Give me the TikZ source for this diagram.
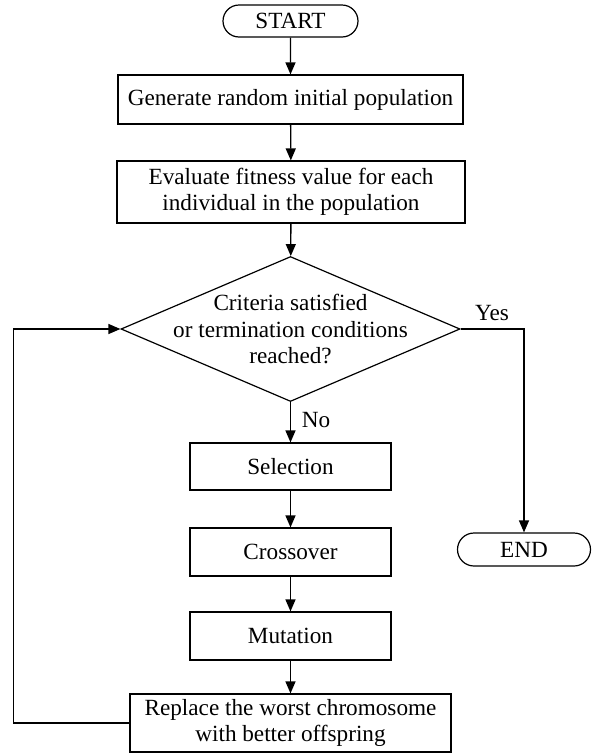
\documentclass[tikz,border=0pt]{standalone}
\usepackage{fontspec}
\setmainfont{Liberation Serif}
\usetikzlibrary{shapes.geometric,shapes.misc,arrows.meta}
\begin{document}
\begin{tikzpicture}[x=1pt,y=-1pt,
  every node/.style={font=\fontsize{23.2}{25.8}\selectfont},
  box/.style={draw, line width=1.2pt, rectangle, inner sep=0pt, align=center},
  term/.style={draw, line width=1.2pt, rounded rectangle, inner sep=0pt},
  flow/.style={draw, line width=1.3pt, -{Triangle[length=12pt,width=10pt]}}]
\useasboundingbox[fill=white] (0,0) rectangle (593,753);
\node[term, minimum width=135pt, minimum height=32pt] (start) at (290.5,21) {START};
\node[box, minimum width=345pt, minimum height=49pt] (gen) at (290.5,99.5) {Generate random initial population};
\node[box, minimum width=348pt, minimum height=62pt] (eval) at (291,192) {Evaluate fitness value for each\\individual in the population};
\node[diamond, draw, line width=1.2pt, minimum width=339pt, minimum height=145pt, inner sep=0pt] (dec) at (290.5,329) {};
\node[align=center, font=\fontsize{23.2}{26.5}\selectfont] (dectext) at (dec.center) {Criteria satisfied\\or termination conditions\\reached?};
\node[box, minimum width=201pt, minimum height=47pt] (sel) at (290.5,466.5) {Selection};
\node[box, minimum width=201pt, minimum height=48pt] (cross) at (290.5,552) {Crossover};
\node[box, minimum width=201pt, minimum height=48pt] (mut) at (290.5,636) {Mutation};
\node[box, minimum width=321pt, minimum height=58pt] (rep) at (290.5,723) {Replace the worst chromosome\\with better offspring};
\node[term, minimum width=133pt, minimum height=33pt] (end) at (524,549.5) {END};
\node (yes) at (492,313) {Yes};
\node (no) at (316,420) {No};
\draw[flow] (start) -- (gen);
\draw[flow] (gen) -- (eval);
\draw[flow] (eval) -- (dec);
\draw[flow] (dec) -- (sel);
\draw[flow] (sel) -- (cross);
\draw[flow] (cross) -- (mut);
\draw[flow] (mut) -- (rep);
\draw[flow] (dec.east) -| (end.north);
\draw[flow] (rep.west) -- ++(-116,0) |- (dec.west);
\end{tikzpicture}
\end{document}
